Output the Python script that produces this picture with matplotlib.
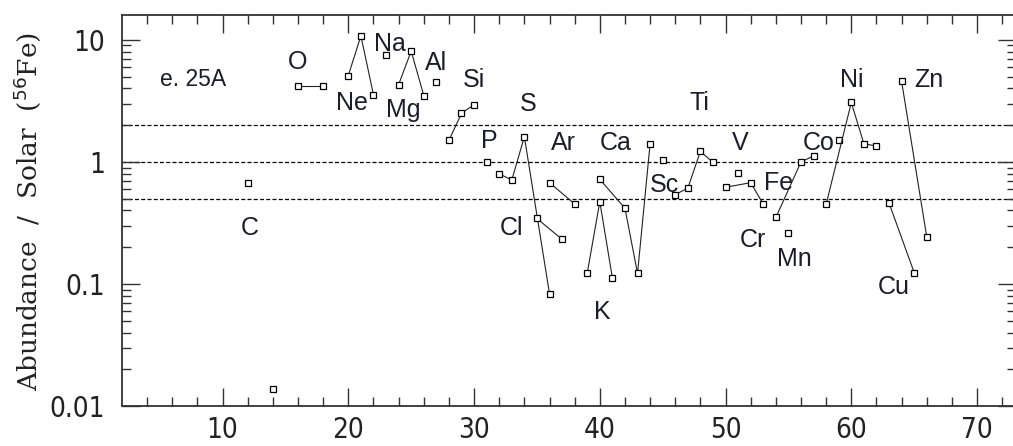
import numpy as np
import matplotlib
matplotlib.use('Agg')
import matplotlib.pyplot as plt
from matplotlib.ticker import FixedLocator, LogLocator, NullFormatter

# isotopic abundances relative to solar, normalised to 56Fe (model e. 25A)
elements = ['C', 'N', 'O', 'Ne', 'Na', 'Mg', 'Al', 'Si', 'P', 'S', 'Cl', 'Ar',
            'K', 'Ca', 'Sc', 'Ti', 'V', 'Cr', 'Mn', 'Fe', 'Co', 'Ni', 'Cu', 'Zn']

mass = {
    'C': [12], 'N': [14], 'O': [16, 18], 'Ne': [20, 21, 22], 'Na': [23],
    'Mg': [24, 25, 26], 'Al': [27], 'Si': [28, 29, 30], 'P': [31],
    'S': [32, 33, 34, 36], 'Cl': [35, 37], 'Ar': [36, 38], 'K': [39, 40, 41],
    'Ca': [40, 42, 43, 44], 'Sc': [45], 'Ti': [46, 47, 48, 49], 'V': [51],
    'Cr': [50, 52, 53], 'Mn': [55], 'Fe': [54, 56, 57], 'Co': [59],
    'Ni': [58, 60, 61, 62], 'Cu': [63, 65], 'Zn': [64, 66],
}

abund = {
    'C': [0.67], 'N': [0.0139], 'O': [4.2, 4.2], 'Ne': [5.1, 10.8, 3.55],
    'Na': [7.5], 'Mg': [4.3, 8.1, 3.5], 'Al': [4.5], 'Si': [1.5, 2.5, 2.95],
    'P': [1.0], 'S': [0.80, 0.71, 1.61, 0.083], 'Cl': [0.344, 0.232],
    'Ar': [0.676, 0.452], 'K': [0.123, 0.472, 0.112],
    'Ca': [0.72, 0.417, 0.122, 1.41], 'Sc': [1.03],
    'Ti': [0.54, 0.61, 1.22, 0.99], 'V': [0.81], 'Cr': [0.62, 0.676, 0.45],
    'Mn': [0.263], 'Fe': [0.351, 1.0, 1.12], 'Co': [1.52],
    'Ni': [0.45, 3.07, 1.41, 1.35], 'Cu': [0.46, 0.124], 'Zn': [4.57, 0.243],
}

# where each element name is written (mass number, abundance)
label_pos = {
    'C': (12.2, 0.29), 'O': (16.0, 6.6), 'Ne': (20.3, 3.05), 'Na': (23.3, 9.3),
    'Mg': (24.4, 2.67), 'Al': (27.0, 6.5), 'Si': (30.0, 4.7), 'P': (31.2, 1.49),
    'S': (34.3, 3.0), 'Cl': (33.0, 0.287), 'Ar': (37.1, 1.43), 'K': (40.2, 0.0586),
    'Ca': (41.3, 1.43), 'Sc': (45.1, 0.646), 'Ti': (47.9, 3.05), 'V': (51.2, 1.43),
    'Cr': (52.2, 0.229), 'Mn': (55.5, 0.159), 'Fe': (54.2, 0.67), 'Co': (57.4, 1.43),
    'Ni': (60.0, 4.7), 'Cu': (63.4, 0.094), 'Zn': (66.2, 4.7),
}

ref_levels = [2.0, 1.0, 0.5]

fig = plt.figure(figsize=(10.13, 4.46), dpi=100)
ax = fig.add_axes([0.1204, 0.0897, 0.8826, 0.8767])

for lev in ref_levels:
    ax.axhline(lev, color='black', lw=0.9, ls=(0, (3.2, 1.8)), zorder=1)

for el in elements:
    ax.plot(mass[el], abund[el], color='#222222', lw=0.8, marker='s',
            markersize=5, markerfacecolor='white', markeredgecolor='black',
            markeredgewidth=0.9, zorder=3)

for el, (x, y) in label_pos.items():
    ax.text(x, y, el, ha='center', va='center', fontsize=18,
            family='Liberation Sans', color='#1c1c2a', zorder=4)

ax.text(5.0, 4.7, 'e. 25A', ha='left', va='center', fontsize=16.5,
        family='Liberation Sans', color='#1c1c2a')

ax.set_yscale('log')
ax.set_xlim(2, 73.1)
ax.set_ylim(0.01, 16)

ax.xaxis.set_major_locator(FixedLocator([10, 20, 30, 40, 50, 60, 70]))
ax.xaxis.set_minor_locator(FixedLocator(np.arange(4, 74, 2)))
ax.yaxis.set_major_locator(FixedLocator([0.01, 0.1, 1, 10]))
ax.yaxis.set_minor_locator(LogLocator(base=10, subs=np.arange(2, 10)))
ax.yaxis.set_minor_formatter(NullFormatter())
ax.set_yticklabels(['0.01', '0.1', '1', '10'])

ax.tick_params(which='both', direction='in', top=True, right=True,
               width=1.0, color='#333333', labelsize=20, labelcolor='#222222')
ax.tick_params(which='major', length=13)
ax.tick_params(which='minor', length=6.5)
ax.tick_params(axis='x', pad=7)
ax.tick_params(axis='y', pad=12)
for lbl in ax.get_xticklabels() + ax.get_yticklabels():
    lbl.set_fontstretch('condensed')
for sp in ax.spines.values():
    sp.set_linewidth(1.3)
    sp.set_color('#333333')

fig.text(27 / 1013, 0.525, r'Abundance  /  Solar  ($^{56}$Fe)', rotation=90,
         ha='center', va='center', fontsize=19, family='DejaVu Serif',
         color='#222222')

fig.savefig('out.png', dpi=100)
